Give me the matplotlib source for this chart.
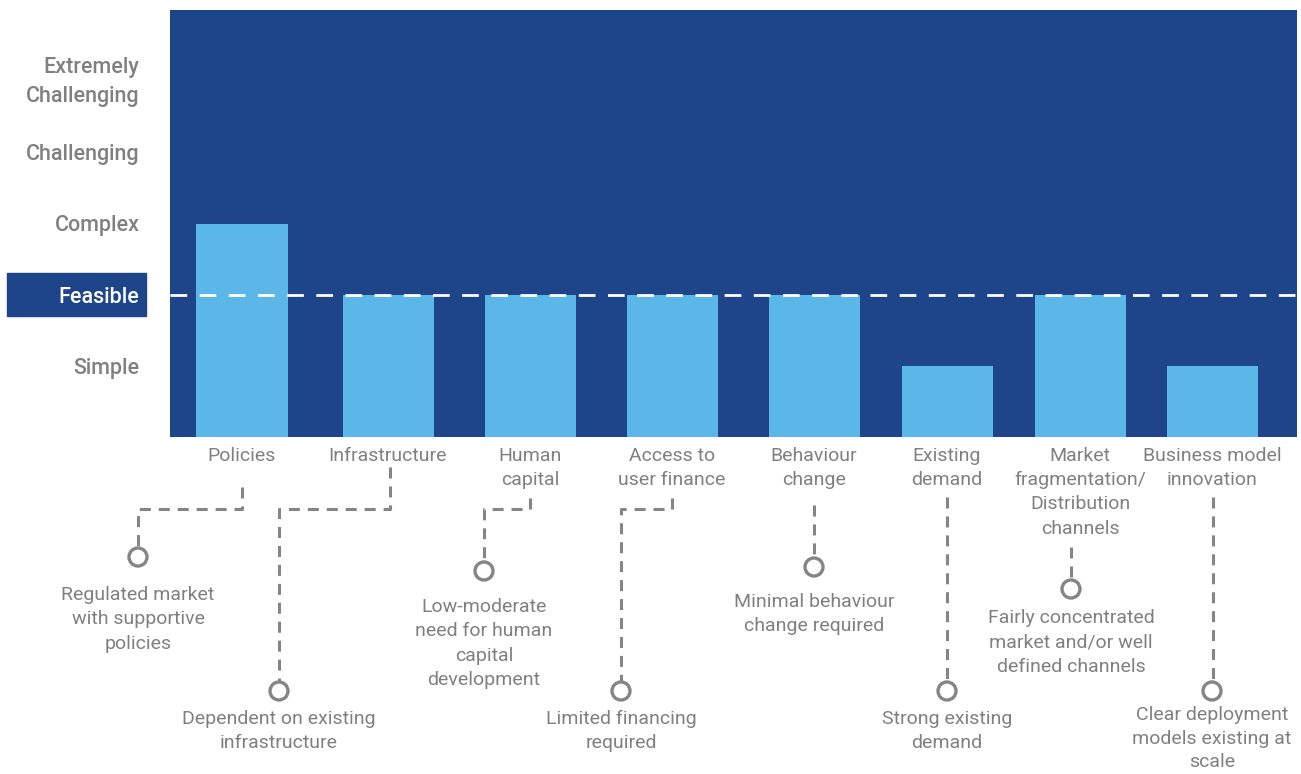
import matplotlib.pyplot as plt
from matplotlib.patches import Rectangle, Circle
from matplotlib.transforms import ScaledTranslation

plt.rcParams['font.family'] = ['Roboto', 'DejaVu Sans']

# data
categories = ['Policies', 'Infrastructure', 'Human\ncapital', 'Access to\nuser finance',
              'Behaviour\nchange', 'Existing\ndemand', 'Market\nfragmentation/\nDistribution\nchannels',
              'Business model\ninnovation']
scores = [3, 2, 2, 2, 2, 1, 2, 1]
levels = [1, 2, 3, 4, 5]
level_names = ['Simple', 'Feasible', 'Complex', 'Challenging', 'Extremely\nChallenging']
notes = ['Regulated market\nwith supportive\npolicies',
         'Dependent on existing\ninfrastructure',
         'Low-moderate\nneed for human\ncapital\ndevelopment',
         'Limited financing\nrequired',
         'Minimal behaviour\nchange required',
         'Strong existing\ndemand',
         'Fairly concentrated\nmarket and/or well\ndefined channels',
         'Clear deployment\nmodels existing at\nscale']

# layout (pixels)
W, H = 1301, 774
xpos = [242, 388, 530, 672, 814, 947, 1080, 1212]
dark = '#1e4589'
light = '#5ab7e8'
grey = '#858585'
txt = '#808080'

fig = plt.figure(figsize=(W / 100, H / 100), dpi=100)
ax = fig.add_axes([170 / W, (H - 437) / H, 1127 / W, 427 / H])
ax.set_facecolor(dark)
ax.bar(xpos, scores, width=91, color=light, zorder=2)
ax.axhline(2, color='white', lw=2, dashes=(6, 4.5), zorder=3)
ax.set_xlim(170, 1297)
ax.set_ylim(0, 6)
for s in ax.spines.values():
    s.set_visible(False)
ax.set_yticks(levels, level_names)
ax.set_xticks(xpos, categories)
ax.tick_params(axis='y', length=0, pad=22, labelsize=15.5, labelcolor=txt)
ax.tick_params(axis='x', length=0, pad=7, labelsize=14, labelcolor=txt)
for t in ax.get_yticklabels():
    t.set_fontweight('medium')
    t.set_linespacing(1.55)
ax.get_yticklabels()[1].set_color('white')
top_lab = ax.get_yticklabels()[4]
top_lab.set_transform(top_lab.get_transform() + ScaledTranslation(0, 0.06, fig.dpi_scale_trans))
for t in ax.get_xticklabels():
    t.set_linespacing(1.45)
    t.set_verticalalignment('top')

# highlight box for Feasible
fig.add_artist(Rectangle((7 / W, (H - 316) / H), 139 / W, 43 / H, transform=fig.transFigure,
                         color=dark, zorder=-1))

# connectors in pixel coordinates
ov = fig.add_axes([0, 0, 1, 1], zorder=3)
ov.set_xlim(0, W)
ov.set_ylim(H, 0)
ov.axis('off')
ov.patch.set_alpha(0)

paths = [
    [(242, 487), (242, 509), (138, 509), (138, 547)],
    [(390, 467), (390, 509), (279, 509), (279, 681)],
    [(530, 498), (530, 509), (484, 509), (484, 561)],
    [(672, 498), (672, 509), (621, 509), (621, 681)],
    [(814, 505), (814, 557)],
    [(947, 497), (947, 681)],
    [(1071, 547), (1071, 579)],
    [(1213, 497), (1213, 681)],
]
circles = [(138, 557), (279, 691), (484, 571), (621, 691), (814, 567), (947, 691), (1071, 589), (1212, 691)]
note_top = [586, 710, 598, 710, 593, 710, 609, 706]
note_ls = [1.45, 1.45, 1.45, 1.45, 1.45, 1.45, 1.45, 1.4]

for path, (cx, cy), ty, ls, note in zip(paths, circles, note_top, note_ls, notes):
    xs = [p[0] for p in path]
    ys = [p[1] for p in path]
    ov.plot(xs, ys, color=grey, lw=2.2, dashes=(3.6, 2.6), solid_joinstyle='miter')
    ov.add_patch(Circle((cx, cy), 9, facecolor='white', edgecolor=grey, lw=2.4, zorder=4))
    ov.text(cx, ty, note, ha='center', va='top', fontsize=14, color=txt,
            linespacing=ls)

fig.savefig('out.png', dpi=100)
